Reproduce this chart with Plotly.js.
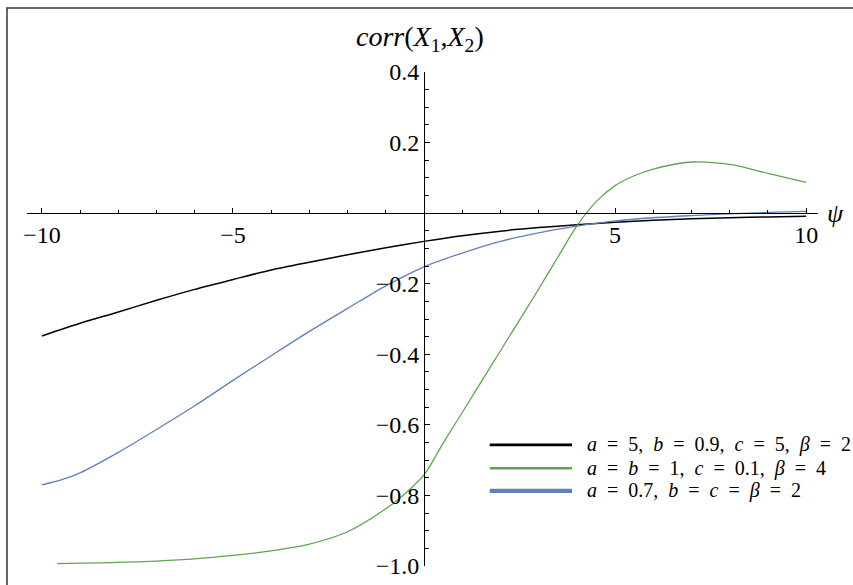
<!DOCTYPE html>
<html>
<head>
<meta charset="utf-8">
<script src="https://cdn.plot.ly/plotly-3.0.1.min.js"></script>
<style>
  html, body { margin: 0; padding: 0; background: #fff; }
  #chart { width: 853px; height: 585px; }
</style>
</head>
<body>
<div id="chart"></div>
<script>
// correlation of (X1, X2) as a function of psi for three parameter sets
const psi = [-10, -9, -8, -7, -6, -5, -4, -3, -2, -1, 0, 1, 2, 3, 4, 5, 6, 7, 8, 9, 10];
const corrBlack = [-0.348, -0.312, -0.280, -0.247, -0.216, -0.188, -0.161, -0.139, -0.118, -0.098, -0.080,
                   -0.064, -0.051, -0.041, -0.033, -0.026, -0.020, -0.016, -0.013, -0.011, -0.009];
const psiBlue = [-10, -9.5, -9, -8, -7, -6, -5, -4, -3, -2, -1, 0, 1, 2, 3, 4, 5, 6, 7, 8, 9, 10];
const corrBlue = [-0.770, -0.756, -0.736, -0.678, -0.613, -0.546, -0.474, -0.404, -0.335, -0.270, -0.206, -0.152,
                  -0.113, -0.080, -0.056, -0.037, -0.022, -0.013, -0.007, -0.002, 0.002, 0.005];
const psiGreen = [-9.6, -9, -8, -7, -6, -5, -4, -3, -2, -1, -0.5, 0, 0.5, 1, 2, 3, 3.5, 4, 4.5, 5, 5.5, 6, 7, 8, 9, 10];
const corrGreen = [-0.993, -0.992, -0.990, -0.986, -0.980, -0.970, -0.957, -0.938, -0.903, -0.838, -0.795, -0.742,
                   -0.652, -0.565, -0.390, -0.215, -0.125, -0.036, 0.032, 0.078, 0.106, 0.125, 0.145, 0.138, 0.113, 0.087];

// legend labels, with the roomy spacing around "=" used in the key
const sp = "\u00a0\u00a0";
const seriesLabels = [
  `<i>a</i>${sp}=${sp}5,${sp}<i>b</i>${sp}=${sp}0.9,${sp}<i>c</i>${sp}=${sp}5,${sp}<i>β</i>${sp}=${sp}2`,
  `<i>a</i>${sp}=${sp}<i>b</i>${sp}=${sp}1,${sp}<i>c</i>${sp}=${sp}0.1,${sp}<i>β</i>${sp}=${sp}4`,
  `<i>a</i>${sp}=${sp}0.7,${sp}<i>b</i>${sp}=${sp}<i>c</i>${sp}=${sp}<i>β</i>${sp}=${sp}2`
];
const seriesColors = ["#000000", "#5da64f", "#5f80bd"];

const xTickVals = [-10, -5, 5, 10];
const xTickText = ["−10", "−5", "5", "10"];
const yTickVals = [-1.0, -0.8, -0.6, -0.4, -0.2, 0.2, 0.4];
const yTickText = ["−1.0", "−0.8", "−0.6", "−0.4", "−0.2", "0.2", "0.4"];

const xRange = [-10.39, 10.31];
const yRange = [-1.0, 0.4];

const serif = "Liberation Serif";

const traces = [
  { x: psi, y: corrBlack, mode: "lines", name: "black",
    line: { color: seriesColors[0], width: 1.5, shape: "spline", smoothing: 0.8 } },
  { x: psiGreen, y: corrGreen, mode: "lines", name: "green",
    line: { color: seriesColors[1], width: 1.3, shape: "spline", smoothing: 0.8 } },
  { x: psiBlue, y: corrBlue, mode: "lines", name: "blue",
    line: { color: seriesColors[2], width: 1.3, shape: "spline", smoothing: 0.8 } }
];

// axes cross at the origin
const xAxisPos = (0 - yRange[0]) / (yRange[1] - yRange[0]);
const yAxisPos = (0 - xRange[0]) / (xRange[1] - xRange[0]);

// hand-drawn legend key: a line sample and a label per series
const legendRowsY = [0.245, 0.198, 0.152];
const legendWidths = [2.8, 2.6, 4.2];
const shapes = [];
const annotations = [];
legendRowsY.forEach((yy, i) => {
  shapes.push({ type: "line", xref: "paper", yref: "paper", x0: 0.585, x1: 0.689, y0: yy, y1: yy,
                line: { color: seriesColors[i], width: legendWidths[i] } });
  annotations.push({ xref: "paper", yref: "paper", x: 0.705, y: yy, xanchor: "left", yanchor: "middle",
                     text: seriesLabels[i], showarrow: false,
                     font: { family: serif, size: 20, color: "#000" } });
});

// outer frame
shapes.push({ type: "rect", xref: "paper", yref: "paper", x0: -0.0253, x1: 1.2, y0: -0.2, y1: 1.1296,
              line: { color: "#333", width: 1.5 }, fillcolor: "rgba(0,0,0,0)" });

annotations.push({ xref: "paper", yref: "paper", x: 0.4968, y: 1.068, xanchor: "center", yanchor: "middle",
                   text: "<i>corr</i>(<i>X</i><sub>1</sub>,<i>X</i><sub>2</sub>)", showarrow: false,
                   font: { family: serif, size: 28, color: "#000" } });
annotations.push({ xref: "paper", yref: "y", x: 1.0215, y: 0, xanchor: "center", yanchor: "middle",
                   text: "<i>ψ</i>", showarrow: false,
                   font: { family: serif, size: 26, color: "#000" } });

const layout = {
  width: 853, height: 585,
  margin: { l: 27, r: 35, t: 72, b: 19 },
  paper_bgcolor: "#fff", plot_bgcolor: "#fff",
  showlegend: false,
  xaxis: {
    range: xRange, anchor: "free", position: xAxisPos,
    showline: true, linecolor: "#000", linewidth: 1.3,
    showgrid: false, zeroline: false,
    tickmode: "array", tickvals: xTickVals, ticktext: xTickText,
    ticks: "inside", ticklen: 5, tickwidth: 1, tickcolor: "#000",
    tickfont: { family: serif, size: 24, color: "#000" },
    minor: { tickmode: "linear", tick0: 0, dtick: 1, ticks: "inside", ticklen: 3.5, tickwidth: 1, tickcolor: "#000", showgrid: false }
  },
  yaxis: {
    range: yRange, anchor: "free", position: yAxisPos,
    showline: true, linecolor: "#000", linewidth: 1.3,
    showgrid: false, zeroline: false,
    tickmode: "array", tickvals: yTickVals, ticktext: yTickText,
    ticks: "inside", ticklen: 5, tickwidth: 1, tickcolor: "#000",
    tickfont: { family: serif, size: 24, color: "#000" },
    minor: { tickmode: "linear", tick0: 0, dtick: 0.05, ticks: "inside", ticklen: 3.5, tickwidth: 1, tickcolor: "#000", showgrid: false }
  },
  shapes: shapes,
  annotations: annotations
};

Plotly.newPlot("chart", traces, layout, { displayModeBar: false, staticPlot: true });
</script>
</body>
</html>
